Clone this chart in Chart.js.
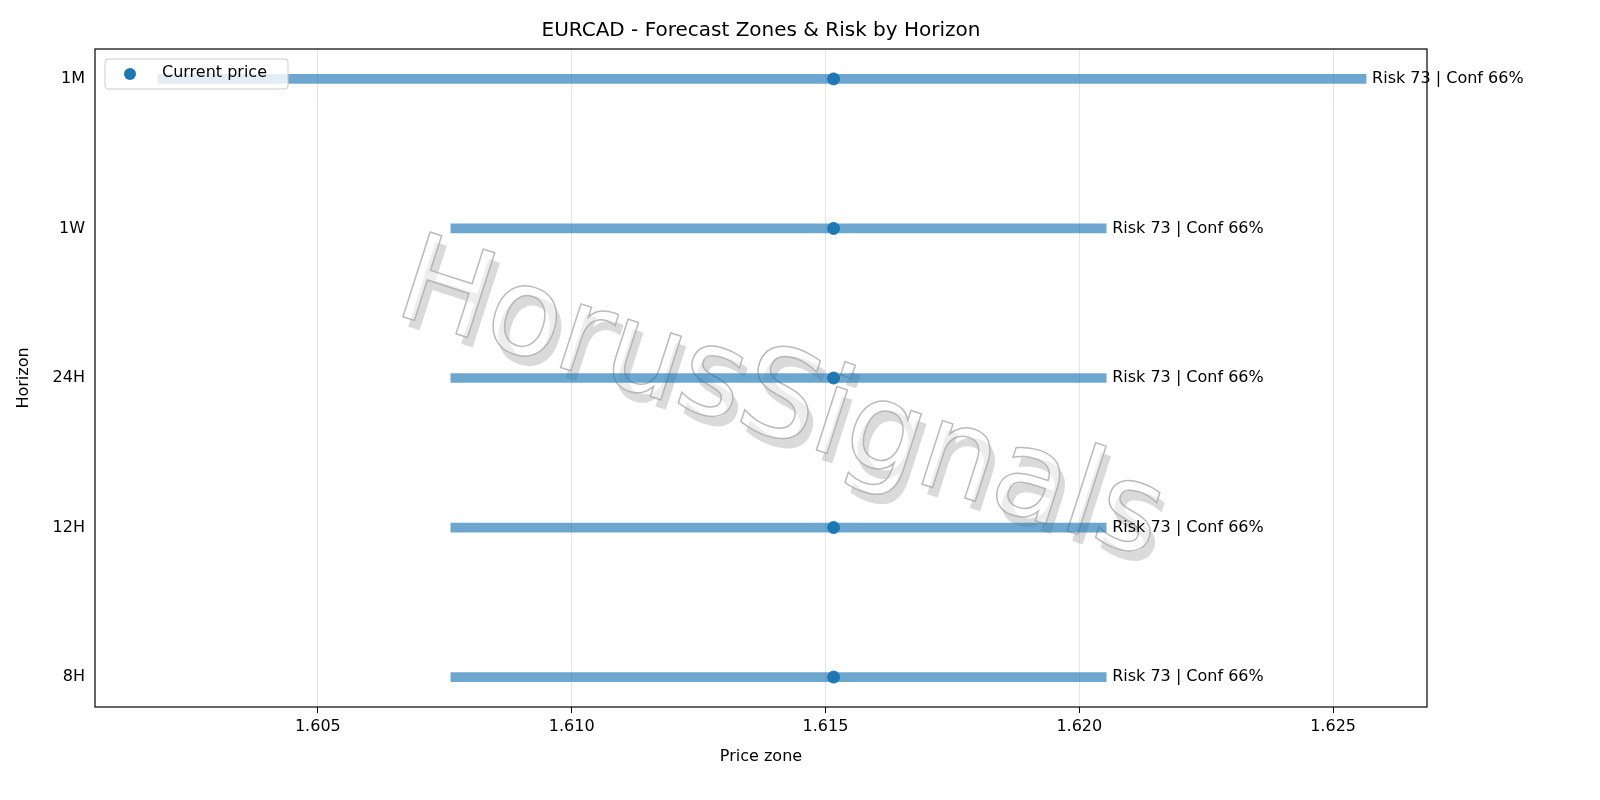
<!DOCTYPE html>
<html><head><meta charset="utf-8">
<script src="https://cdn.jsdelivr.net/npm/chart.js@4"></script>
<style>html,body{margin:0;background:#fff;overflow:hidden}</style>
</head><body><canvas id="c" width="1600" height="800" style="width:1600px;height:800px"></canvas>
<script>
const horizons = ['1M','1W','24H','12H','8H'];
const zoneLow  = [1.60185, 1.60762, 1.60762, 1.60762, 1.60762];
const zoneHigh = [1.62565, 1.62053, 1.62053, 1.62053, 1.62053];
const currentPrice = [1.61516, 1.61516, 1.61516, 1.61516, 1.61516];
const riskLabels = ['Risk 73 | Conf 66%','Risk 73 | Conf 66%','Risk 73 | Conf 66%','Risk 73 | Conf 66%','Risk 73 | Conf 66%'];
const xTicks = [1.605, 1.610, 1.615, 1.620, 1.625];
const FONT = 'DejaVu Sans';

const deco = {
  id:'deco',
  beforeDatasetsDraw(ch){
    const {ctx} = ch;
    ctx.save();
    ctx.translate(780, 405);
    ctx.rotate(Math.atan2(1,3.1));
    ctx.font = '122px ' + FONT;
    ctx.textAlign='center'; ctx.textBaseline='middle';
    ctx.fillStyle='rgba(150,150,150,0.35)';
    ctx.fillText('HorusSignals', 8, 8);
    ctx.fillStyle='rgba(255,255,255,0.5)';
    ctx.fillText('HorusSignals', 0, 0);
    ctx.strokeStyle='rgba(170,170,170,0.8)'; ctx.lineWidth=1.5;
    ctx.strokeText('HorusSignals', 0, 0);
    ctx.restore();
  },
  afterDraw(ch){
    const {ctx, chartArea:a, scales} = ch;
    ctx.save();
    ctx.fillStyle='#000';
    ctx.font='20px ' + FONT; ctx.textAlign='center'; ctx.textBaseline='middle';
    ctx.fillText('EURCAD - Forecast Zones & Risk by Horizon', (a.left+a.right)/2, 31);
    ctx.font='16px ' + FONT; ctx.textAlign='left';
    horizons.forEach((h,i)=>{
      ctx.fillText(riskLabels[i], scales.x.getPixelForValue(zoneHigh[i])+6, scales.y.getPixelForValue(i));
    });
    ctx.strokeStyle='#000'; ctx.lineWidth=1.2;
    ctx.strokeRect(a.left, a.top, a.right-a.left, a.bottom-a.top);
    ctx.fillStyle='rgba(255,255,255,0.8)'; ctx.strokeStyle='#ccc'; ctx.lineWidth=1;
    ctx.beginPath(); ctx.roundRect(105, 59, 183, 30, 3); ctx.fill(); ctx.stroke();
    ctx.fillStyle='#1f77b4'; ctx.beginPath(); ctx.arc(130, 74, 6, 0, Math.PI*2); ctx.fill();
    ctx.fillStyle='#000'; ctx.fillText('Current price', 162, 73);
    ctx.restore();
  }
};

new Chart(document.getElementById('c'), {
  type:'bar',
  data:{
    datasets:[
      {type:'line', label:'Current price', data: currentPrice.map((v,i)=>({x:v,y:i})),
       showLine:false, pointRadius:6, pointHoverRadius:6, backgroundColor:'#1f77b4', borderColor:'#1f77b4', indexAxis:'y', order:0},
      {type:'bar', label:'zone', data: zoneLow.map((v,i)=>({x:[v, zoneHigh[i]], y:i})),
       backgroundColor:'rgba(31,119,180,0.65)', barThickness:9, indexAxis:'y', order:1}
    ]
  },
  options:{
    indexAxis:'y', responsive:false, animation:false, devicePixelRatio:1,
    layout:{padding:{left:10, right:173, top:49, bottom:30}},
    plugins:{legend:{display:false}, title:{display:false}, tooltip:{enabled:false}},
    scales:{
      x:{type:'linear', min:1.60061, max:1.62685,
        afterBuildTicks(s){ s.ticks = xTicks.map(v=>({value:v})); },
        afterFit(s){ s.height = 63; },
        grid:{color:'rgba(0,0,0,0.1)', drawTicks:true, tickLength:6, tickColor:'#000'},
        border:{display:false},
        ticks:{color:'#000', font:{family:FONT, size:16}, callback:v=>v.toFixed(3), padding:4},
        title:{display:true, text:'Price zone', color:'#000', font:{family:FONT, size:16}, padding:{top:2}}
      },
      y:{type:'linear', reverse:true, min:-0.2, max:4.2, offset:false,
        afterBuildTicks(s){ s.ticks = horizons.map((h,i)=>({value:i})); },
        afterFit(s){ s.width = 85; },
        grid:{display:false, drawTicks:true, tickLength:6, tickColor:'#000'},
        border:{display:false},
        ticks:{color:'#000', font:{family:FONT, size:16}, padding:4, callback:v=>horizons[v]},
        title:{display:true, text:'Horizon', color:'#000', font:{family:FONT, size:16}}
      }
    }
  },
  plugins:[deco]
});
</script></body></html>
